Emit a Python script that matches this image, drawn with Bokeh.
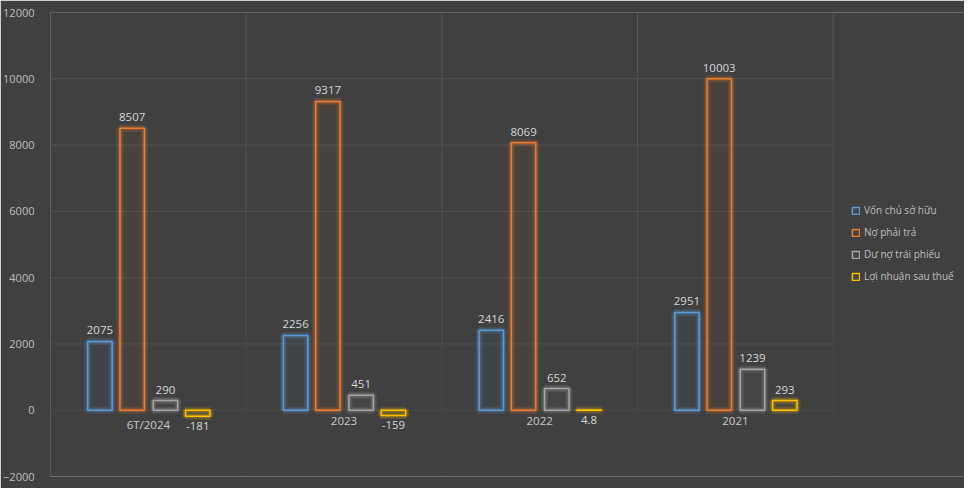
from bokeh.plotting import figure
from bokeh.models import Range1d, FixedTicker, Legend, LegendItem, ColumnDataSource
from bokeh.core.properties import value
from bokeh.embed import file_html
from bokeh.resources import INLINE

categories = ["6T/2024", "2023", "2022", "2021"]
series_names = ["Vốn chủ sở hữu", "Nợ phải trả", "Dư nợ trái phiếu", "Lợi nhuận sau thuế"]
von_chu_so_huu = [2075, 2256, 2416, 2951]
no_phai_tra = [8507, 9317, 8069, 10003]
du_no_trai_phieu = [290, 451, 652, 1239]
loi_nhuan_sau_thue = [-181, -159, 4.8, 293]
value_labels = [
    ["2075", "2256", "2416", "2951"],
    ["8507", "9317", "8069", "10003"],
    ["290", "451", "652", "1239"],
    ["-181", "-159", "4.8", "293"],
]
y_ticks = [-2000, 0, 2000, 4000, 6000, 8000, 10000, 12000]

series_values = [von_chu_so_huu, no_phai_tra, du_no_trai_phieu, loi_nhuan_sau_thue]
colors = ["#5b9bd5", "#ed7d31", "#a5a5a5", "#ffc000"]
offsets = [-0.2475, -0.0825, 0.0875, 0.2525]
# grid line shades, fading toward the bottom (one per tick, bottom to top)
grid_shades = ["#444444", "#494949", "#4e4e4e", "#515151", "#535353", "#555555", "#575757", "#595959"]
FONT = "Open Sans"
BG = "#404040"
n = len(categories)
x_end = n * 919 / 787  # frame extends into legend area

p = figure(width=964, height=488, output_backend="svg", toolbar_location=None,
           x_range=Range1d(0, x_end), y_range=Range1d(-2000, 12000),
           x_axis_location=None,
           background_fill_color=BG, border_fill_color=BG,
           min_border_left=45, min_border_right=0, min_border_top=12, min_border_bottom=12)
p.outline_line_color = None
p.grid.visible = False

p.yaxis.ticker = FixedTicker(ticks=y_ticks)
p.yaxis.axis_line_color = None
p.yaxis.major_tick_line_color = None
p.yaxis.minor_tick_line_color = None
p.yaxis.major_label_standoff = 10
p.yaxis.major_label_text_color = "#bfbfbf"
p.yaxis.major_label_text_font = FONT
p.yaxis.major_label_text_font_size = "11px"

# horizontal grid lines (none at the bottom tick)
for t, shade in zip(y_ticks[1:], grid_shades[1:]):
    p.segment(x0=0, y0=t, x1=n, y1=t, line_color=shade, line_width=1, level="underlay")
# vertical category separators, fading downward
for j in range(n + 1):
    for t0, t1, shade in zip(y_ticks[:-1], y_ticks[1:], grid_shades[:-1]):
        p.segment(x0=j, y0=t0, x1=j, y1=t1, line_color=shade, line_width=1, level="underlay")

items = []
for k, (vals, col, off) in enumerate(zip(series_values, colors, offsets)):
    xs = [i + 0.5 + off for i in range(n)]
    src = ColumnDataSource(dict(x=xs, top=vals))
    p.vbar(x="x", top="top", bottom=0, width=0.125, source=src,
           fill_color=None, line_color=col, line_width=7, line_alpha=0.15)
    p.vbar(x="x", top="top", bottom=0, width=0.125, source=src,
           fill_color=None, line_color=col, line_width=4, line_alpha=0.2)
    r = p.vbar(x="x", top="top", bottom=0, width=0.125, source=src,
               fill_color=col, fill_alpha=0.05, line_color=col, line_width=1.5)
    items.append(LegendItem(label=series_names[k], renderers=[r]))
    up = dict(x=[x for x, v in zip(xs, vals) if v >= 50],
              y=[v for v in vals if v >= 50],
              t=[l for l, v in zip(value_labels[k], vals) if v >= 50])
    dn = dict(x=[x for x, v in zip(xs, vals) if v < 50],
              y=[min(v, 0) for v in vals if v < 50],
              t=[l for l, v in zip(value_labels[k], vals) if v < 50])
    p.text(x="x", y="y", text="t", source=ColumnDataSource(up), text_align="center",
           text_baseline="bottom", y_offset=-7, text_color="#d5d8dc",
           text_font=value(FONT), text_font_size="11.5px")
    p.text(x="x", y="y", text="t", source=ColumnDataSource(dn), text_align="center",
           text_baseline="top", y_offset=6, text_color="#d5d8dc",
           text_font=value(FONT), text_font_size="11.5px")

p.text(x=[i + 0.5 for i in range(n)], y=[0] * n, text=categories,
       text_align="center", text_baseline="top", y_offset=7, text_color="#c8cbcf",
       text_font=value(FONT), text_font_size="11.5px")

legend = Legend(items=items, location=(801, 192), orientation="vertical",
                glyph_width=9, glyph_height=9, label_height=16, spacing=6,
                label_standoff=4, padding=0, margin=0,
                background_fill_alpha=0, border_line_alpha=0,
                label_text_color="#bfbfbf", label_text_font=FONT,
                label_text_font_size="10px")
p.add_layout(legend)

open("out.html", "w").write(file_html(p, INLINE))
